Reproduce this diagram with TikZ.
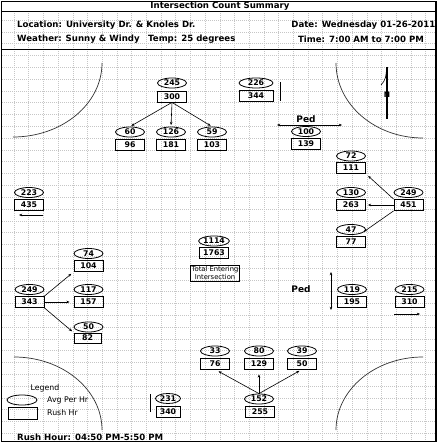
\documentclass[tikz,border=0pt]{standalone}
\usepackage{fontspec}
\setmainfont{DejaVu Sans}
\usetikzlibrary{shapes.geometric,arrows.meta}
\begin{document}
\begin{tikzpicture}[x=1pt,y=-1pt,
  numfont/.style={font=\bfseries\fontsize{7.8}{7.8}\selectfont},
  avg/.style={draw,ellipse,line width=0.8pt,minimum width=29pt,minimum height=10pt,inner sep=0pt,numfont},
  rush/.style={draw,rectangle,line width=0.8pt,minimum width=29pt,minimum height=11pt,inner sep=0pt,numfont},
  arr/.style={-{Stealth[length=3.2pt,width=2.6pt]},line width=0.6pt},
  darr/.style={{Stealth[length=3.2pt,width=2.6pt]}-{Stealth[length=3.2pt,width=2.6pt]},line width=0.6pt},
  gridline/.style={gray!45,line width=0.4pt,dash pattern=on 1pt off 1pt},
  hdr/.style={font=\bfseries\fontsize{8.6}{8.6}\selectfont,inner sep=0pt},
  lbl/.style={font=\fontsize{7.8}{7.8}\selectfont,inner sep=0pt},
  pedfont/.style={font=\bfseries\fontsize{9}{9}\selectfont,inner sep=0pt},
  arc/.style={line width=0.7pt,black!80}]
\useasboundingbox (0,0) rectangle (439,443);
\fill[white] (0,0) rectangle (439,443);
% grid
\begin{scope}
\clip (2,11) rectangle (436,441);
\foreach \i in {0,...,28} \draw[gridline] ({13.9+14.7*\i},11) -- ++(0,431);
\foreach \j in {0,...,35} \draw[gridline] (2,{20.1+11.8*\j}) -- ++(434,0);
\end{scope}
% frame
\draw[line width=1pt] (1.5,1.5) rectangle (436,441.5);
\draw[line width=1.6pt] (436,1.5) -- (436,441.5);
\draw[line width=0.8pt] (1.5,11) -- (436,11);
\draw[line width=1.2pt] (1.5,49.5) -- (436,49.5);
% header
\node[hdr] (title) at (220,6.5) {Intersection Count Summary};
\node[hdr,anchor=west] (loc) at (17,25) {Location: University Dr. \& Knoles Dr.};
\node[hdr,anchor=east] (date) at (435.5,25) {Date: Wednesday 01-26-2011};
\node[hdr,anchor=west] (weather) at (17,39) {Weather: Sunny \& Windy};
\node[hdr,anchor=west] (temp) at (148,39) {Temp: 25 degrees};
\node[hdr] (time) at (361,39) {Time: 7:00 AM to 7:00 PM};
% corner arcs
\draw[arc] (102,63) .. controls (102,104) and (62,137) .. (13,137);
\draw[arc] (336,63) .. controls (336,104.4) and (375,138) .. (423,138);
\draw[arc] (14,357) .. controls (62.6,357) and (102,389.7) .. (102,430);
\draw[arc] (336,430) .. controls (336,389.7) and (375,357) .. (423,357);
% north arrow
\coordinate (nt) at (387,67);
\coordinate (nb) at (387,119);
\draw[line width=1.1pt] (nt) -- (nb);
\draw[line width=0.6pt] (381,85) .. controls (386,80) and (386,75) .. (386.5,70);
\node[font=\bfseries\fontsize{7.5}{7.5}\selectfont,inner sep=0pt] (north) at (387,95) {N};
% top approach
\node[avg] (a245) at (172,83) {245};
\node[rush] (r300) at (172,96.5) {300};
\node[avg] (a60) at (130,132) {60};
\node[rush] (r96) at (130,144.5) {96};
\node[avg] (a126) at (171,132) {126};
\node[rush] (r181) at (171,144.5) {181};
\node[avg] (a59) at (212,132) {59};
\node[rush] (r103) at (212,144.5) {103};
\draw[arr,shorten >=1.5pt] (r300.south) -- (a60.north);
\draw[arr,shorten >=1.5pt] (r300.south) -- (a126.north);
\draw[arr,shorten >=1.5pt] (r300.south) -- (a59.north);
% top exit
\node[avg,minimum width=34pt] (a226) at (256,83) {226};
\node[rush,minimum width=34pt] (r344) at (256,96) {344};
\coordinate (l226a) at (280,82);
\coordinate (l226b) at (280,101);
\draw[line width=0.8pt] (l226a) -- (l226b);
% ped top
\node[pedfont] (ped1) at (306,119) {Ped};
\coordinate (pedL) at (277,125);
\coordinate (pedR) at (342,125);
\draw[darr] (pedL) -- (pedR);
\node[avg] (a100) at (306,131.5) {100};
\node[rush] (r139) at (306,143.5) {139};
% right approach
\node[avg] (a72) at (351,156) {72};
\node[rush] (r111) at (351,168) {111};
\node[avg] (a130) at (351,192.5) {130};
\node[rush] (r263) at (351,205) {263};
\node[avg] (a47) at (351,229.5) {47};
\node[rush] (r77) at (351,242) {77};
\node[avg] (a249r) at (408.5,192.5) {249};
\node[rush] (r451) at (408.5,205) {451};
\draw[arr,shorten >=3pt] (r451.north west) -- (r111.south east);
\draw[arr,shorten >=2pt] (r451.west) -- (r263.east);
\draw[arr,shorten >=3pt] (r451.south west) -- (a47.south east);
% left exit
\node[avg] (a223) at (29,192.5) {223};
\node[rush] (r435) at (29,204.5) {435};
\coordinate (l223a) at (43,215);
\coordinate (l223b) at (19,215);
\draw[arr] (l223a) -- (l223b);
% left approach
\node[avg] (a249l) at (29.5,289.5) {249};
\node[rush] (r343) at (29.5,302) {343};
\node[avg] (a74) at (88.5,253.5) {74};
\node[rush] (r104) at (88.5,266) {104};
\node[avg] (a117) at (88.5,289.5) {117};
\node[rush] (r157) at (88.5,302) {157};
\node[avg] (a50) at (88.5,327) {50};
\node[rush,minimum width=27pt,minimum height=10pt] (r82) at (87.5,338) {82};
\draw[arr,shorten >=3pt] (r343.north east) -- (r104.south west);
\draw[arr,shorten >=4pt] (r343.east) -- (r157.west);
\draw[arr,shorten >=2pt] (r343.south east) -- (r82.north west);
% centre
\node[avg] (a1114) at (214,241) {1114};
\node[rush] (r1763) at (214,253) {1763};
\node[draw,line width=0.8pt,align=center,font=\fontsize{6.8}{7.6}\selectfont,inner xsep=1pt,inner ysep=1.5pt] (total) at (215,273) {Total Entering\\Intersection};
% right exit
\node[pedfont] (ped2) at (301,289) {Ped};
\coordinate (pedT) at (331,272);
\coordinate (pedB) at (331,310);
\draw[darr] (pedT) -- (pedB);
\node[avg] (a119) at (352,289.5) {119};
\node[rush] (r195) at (352,302) {195};
\node[avg] (a215) at (409.5,289.5) {215};
\node[rush] (r310) at (409.5,302) {310};
\coordinate (l215a) at (394,314);
\coordinate (l215b) at (420,314);
\draw[arr] (l215a) -- (l215b);
% bottom approach
\node[avg] (a33) at (215,351) {33};
\node[rush] (r76) at (215,363.5) {76};
\node[avg] (a80) at (259,351) {80};
\node[rush] (r129) at (259,363.5) {129};
\node[avg] (a39) at (302,351) {39};
\node[rush] (r50) at (302,363.5) {50};
\node[avg] (a152) at (259,399) {152};
\node[rush] (r255) at (260,411.5) {255};
\draw[arr,shorten >=4pt] (a152.north) -- (r76.south);
\draw[arr,shorten >=5pt] (a152.north) -- (r129.south);
\draw[arr,shorten >=3pt] (a152.north) -- (r50.south);
% bottom exit
\node[avg,minimum width=25pt] (a231) at (168,398.5) {231};
\node[rush,minimum width=24pt] (r340) at (168,412) {340};
\coordinate (l231a) at (150,394);
\coordinate (l231b) at (150,412);
\draw[line width=0.8pt] (l231a) -- (l231b);
% legend
\node[lbl] (legend) at (45,388) {Legend};
\node[draw,ellipse,line width=0.8pt,minimum width=30pt,minimum height=10pt,inner sep=0pt] (legE) at (22,400) {};
\node[lbl,anchor=west] (legA) at (47,400) {Avg Per Hr};
\node[draw,rectangle,line width=0.8pt,minimum width=29pt,minimum height=12pt,inner sep=0pt] (legR) at (22.5,413) {};
\node[lbl,anchor=west] (legB) at (47,413) {Rush Hr};
\node[hdr,anchor=west] (rush) at (17,437) {Rush Hour: 04:50 PM-5:50 PM};
\end{tikzpicture}
\end{document}
